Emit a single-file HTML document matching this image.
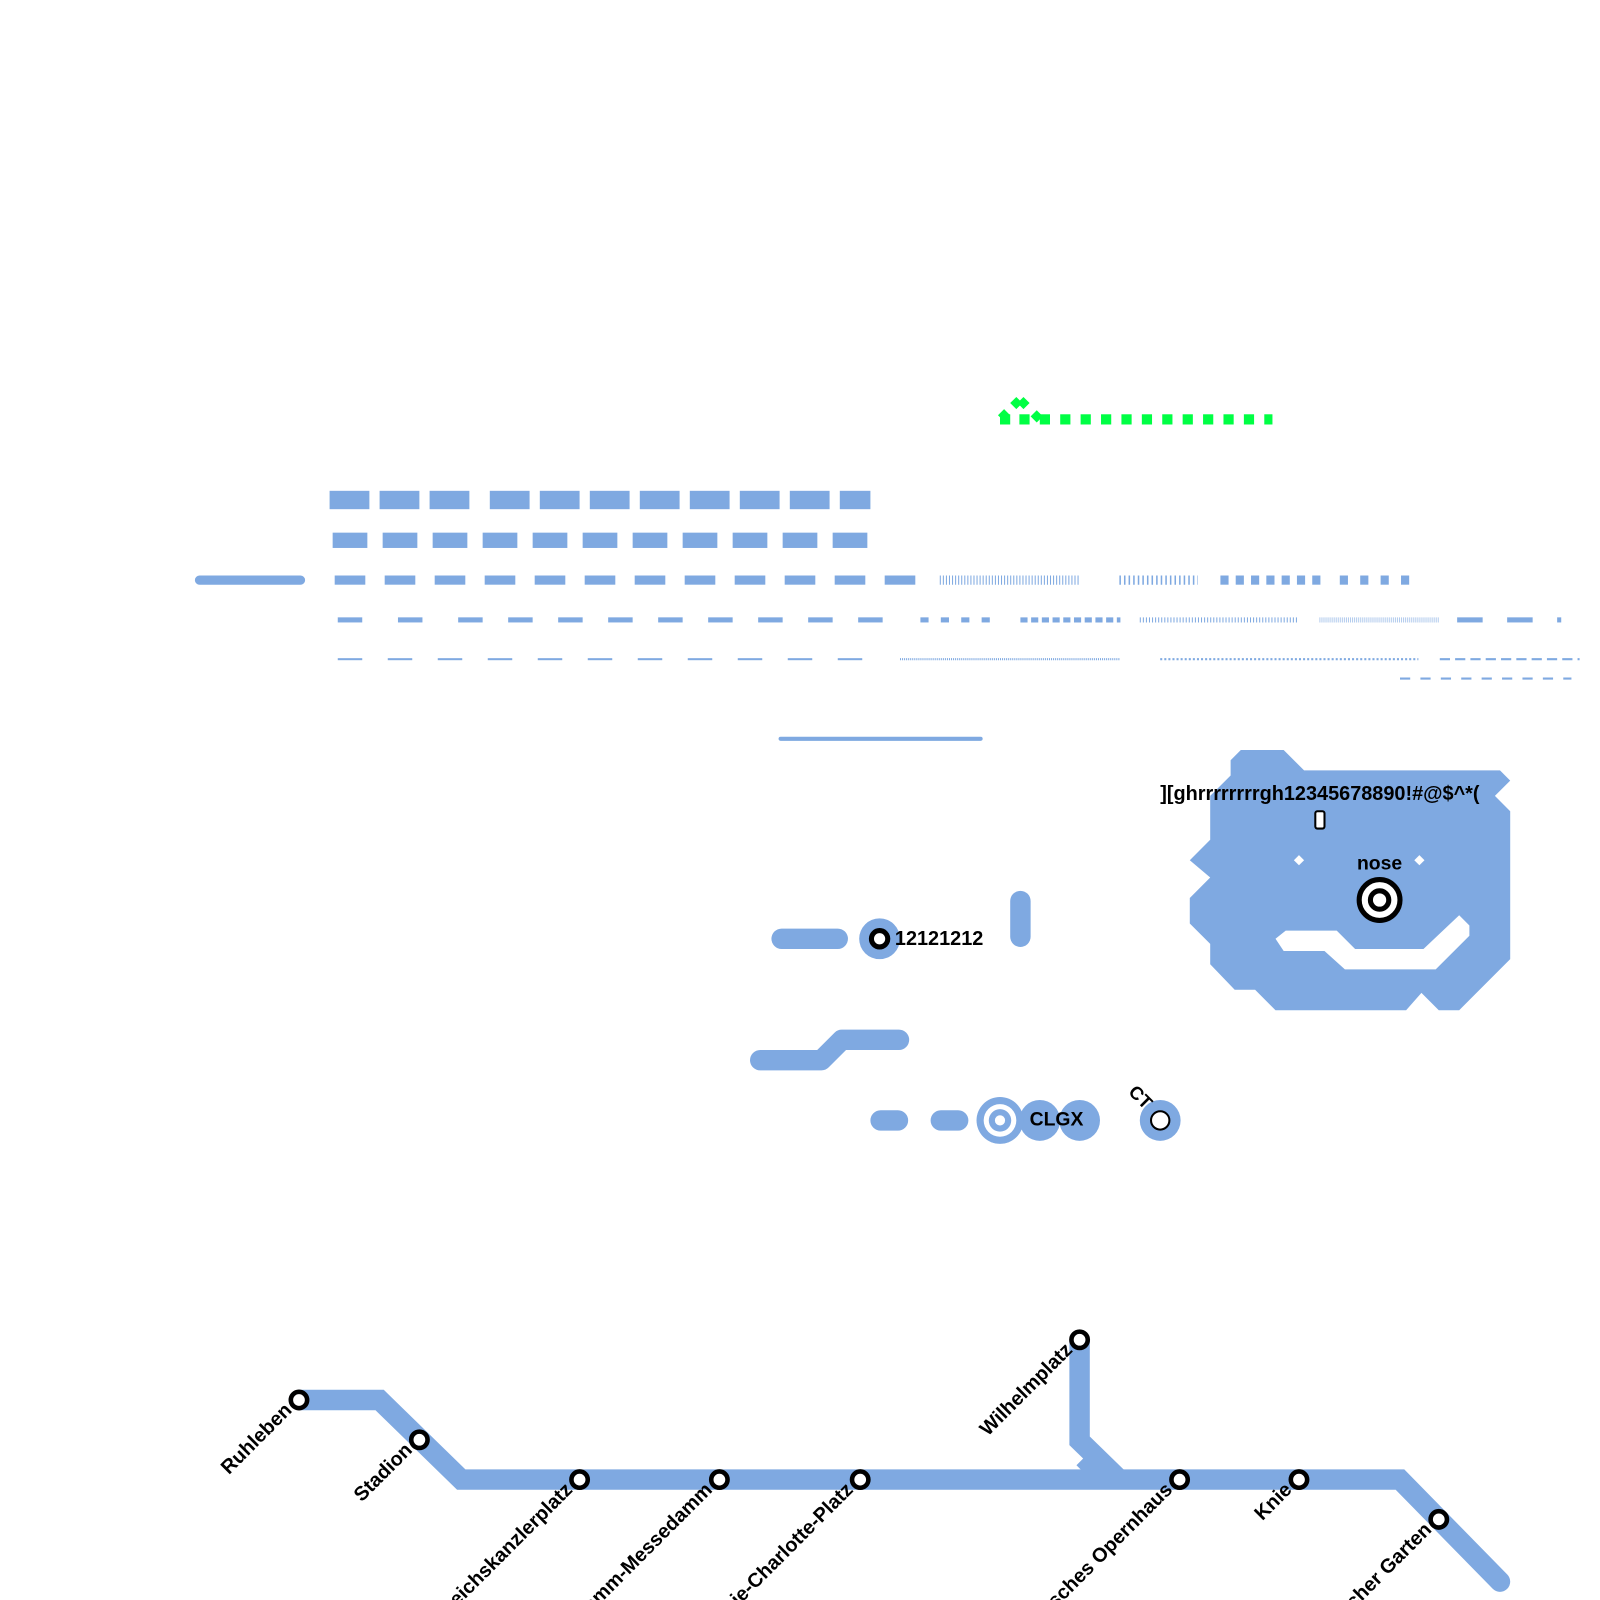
<!DOCTYPE html>
<html><head><meta charset="utf-8"><style>
html,body{margin:0;padding:0;background:#fff;}
svg{display:block;}
text{font-family:"Liberation Sans",sans-serif;font-weight:bold;fill:#000;}
</style></head><body>
<svg width="1600" height="1600" viewBox="0 0 1568 1568" xmlns="http://www.w3.org/2000/svg">
<g fill="#00ff44">
  <rect x="980" y="406" width="10" height="10"/>
  <rect x="999" y="406" width="10" height="10"/>
  <rect x="1019" y="406" width="10" height="10"/>
  <rect x="1039" y="406" width="10" height="10"/>
  <rect x="1059" y="406" width="10" height="10"/>
  <rect x="1079" y="406" width="10" height="10"/>
  <rect x="1099" y="406" width="10" height="10"/>
  <rect x="1119" y="406" width="10" height="10"/>
  <rect x="1139" y="406" width="10" height="10"/>
  <rect x="1159" y="406" width="10" height="10"/>
  <rect x="1179" y="406" width="10" height="10"/>
  <rect x="1199" y="406" width="10" height="10"/>
  <rect x="1219" y="406" width="10" height="10"/>
  <rect x="1239" y="406" width="8" height="10"/>
  <polygon points="984,401 990,407 984,413 978,407"/>
  <polygon points="1016,402 1022,408 1016,414 1010,408"/>
  <polygon points="996,389 1002,395 996,401 990,395"/>
  <polygon points="1003,389 1009,395 1003,401 997,395"/>
</g>
<g fill="#7fa9e1">
  <g transform="translate(0,481)">
    <rect x="323" width="39" height="18"/><rect x="372" width="39" height="18"/><rect x="421" width="39" height="18"/>
    <rect x="480" width="39" height="18"/><rect x="529" width="39" height="18"/><rect x="578" width="39" height="18"/>
    <rect x="627" width="39" height="18"/><rect x="676" width="39" height="18"/><rect x="725" width="39" height="18"/>
    <rect x="774" width="39" height="18"/><rect x="823" width="30" height="18"/>
  </g>
  <g transform="translate(0,522)">
    <rect x="326" width="34" height="15"/><rect x="375" width="34" height="15"/><rect x="424" width="34" height="15"/>
    <rect x="473" width="34" height="15"/><rect x="522" width="34" height="15"/><rect x="571" width="34" height="15"/>
    <rect x="620" width="34" height="15"/><rect x="669" width="34" height="15"/><rect x="718" width="34" height="15"/>
    <rect x="767" width="34" height="15"/><rect x="816" width="34" height="15"/>
  </g>
  <rect x="191" y="564" width="108" height="9" rx="4.5"/>
  <g transform="translate(0,564)">
    <rect x="328" width="30" height="9"/><rect x="377" width="30" height="9"/><rect x="426" width="30" height="9"/>
    <rect x="475" width="30" height="9"/><rect x="524" width="30" height="9"/><rect x="573" width="30" height="9"/>
    <rect x="622" width="30" height="9"/><rect x="671" width="30" height="9"/><rect x="720" width="30" height="9"/>
    <rect x="769" width="30" height="9"/><rect x="818" width="30" height="9"/><rect x="867" width="30" height="9"/>
    <rect x="1196" width="8" height="9"/><rect x="1211" width="8" height="9"/><rect x="1226" width="8" height="9"/>
    <rect x="1241" width="8" height="9"/><rect x="1256" width="8" height="9"/><rect x="1271" width="8" height="9"/>
    <rect x="1286" width="8" height="9"/>
    <rect x="1313" width="8" height="9"/><rect x="1333" width="8" height="9"/><rect x="1353" width="8" height="9"/><rect x="1373" width="8" height="9"/>
  </g>
  <g transform="translate(0,605)">
    <rect x="331" width="24" height="5"/><rect x="390" width="24" height="5"/><rect x="449" width="24" height="5"/>
    <rect x="498" width="24" height="5"/><rect x="547" width="24" height="5"/><rect x="596" width="24" height="5"/>
    <rect x="645" width="24" height="5"/><rect x="694" width="24" height="5"/><rect x="743" width="24" height="5"/>
    <rect x="792" width="24" height="5"/><rect x="841" width="24" height="5"/>
    <rect x="902" width="8" height="5"/><rect x="922" width="8" height="5"/><rect x="942" width="8" height="5"/><rect x="962" width="8" height="5"/>
    <rect x="1428" width="25" height="5"/><rect x="1477" width="25" height="5"/><rect x="1526" width="4" height="5"/>
  </g>
  <g transform="translate(0,645)">
    <rect x="331" width="24" height="2"/><rect x="380" width="24" height="2"/><rect x="429" width="24" height="2"/>
    <rect x="478" width="24" height="2"/><rect x="527" width="24" height="2"/><rect x="576" width="24" height="2"/>
    <rect x="625" width="24" height="2"/><rect x="674" width="24" height="2"/><rect x="723" width="24" height="2"/>
    <rect x="772" width="24" height="2"/><rect x="821" width="24" height="2"/>
  </g>
  <rect x="763" y="722" width="200" height="4" rx="2"/>
</g>
<g fill="none" stroke="#7fa9e1">
  <line x1="921" y1="568.5" x2="1058" y2="568.5" stroke-width="9" stroke-dasharray="1,2"/>
  <line x1="1097" y1="568.5" x2="1174" y2="568.5" stroke-width="9" stroke-dasharray="1.5,3"/>
  <line x1="1000" y1="607.5" x2="1098" y2="607.5" stroke-width="5" stroke-dasharray="7,3.5"/>
  <line x1="1117" y1="607.5" x2="1272" y2="607.5" stroke-width="5" stroke-dasharray="1,2"/>
  <line x1="1293" y1="607.5" x2="1410" y2="607.5" stroke-width="5" stroke-dasharray="1,1" opacity="0.6"/>
  <line x1="882" y1="646" x2="1097" y2="646" stroke-width="2" stroke-dasharray="1,1"/>
  <line x1="1137" y1="646" x2="1390" y2="646" stroke-width="2" stroke-dasharray="2,2"/>
  <line x1="1411" y1="646" x2="1548" y2="646" stroke-width="2" stroke-dasharray="10,5"/>
  <line x1="1372" y1="665" x2="1540" y2="665" stroke-width="2" stroke-dasharray="10,10"/>
</g>
<g stroke="#7fa9e1" stroke-width="20" stroke-linecap="round" stroke-linejoin="round" fill="none">
  <line x1="766" y1="920" x2="821" y2="920"/>
  <line x1="1000" y1="883" x2="1000" y2="918"/>
  <polyline points="745,1039 805,1039 825,1019 881,1019"/>
  <line x1="863" y1="1098" x2="880" y2="1098"/>
  <line x1="922" y1="1098" x2="939" y2="1098"/>
</g>
<circle cx="862" cy="920" r="20" fill="#7fa9e1"/>
<circle cx="862" cy="920" r="8" fill="#fff" stroke="#000" stroke-width="5"/>
<text x="877" y="926" font-size="19.5">12121212</text>
<circle cx="1019" cy="1098" r="20" fill="#7fa9e1"/>
<circle cx="1058" cy="1098" r="20" fill="#7fa9e1"/>
<circle cx="980" cy="1098" r="23" fill="#7fa9e1"/>
<circle cx="980" cy="1098" r="16" fill="#fff"/>
<circle cx="980" cy="1098" r="11" fill="#7fa9e1"/>
<circle cx="980" cy="1098" r="5" fill="#fff"/>
<text x="1009" y="1103" font-size="19">CLGX</text>
<circle cx="1137" cy="1098" r="20" fill="#7fa9e1"/>
<circle cx="1137" cy="1098" r="9" fill="#fff" stroke="#000" stroke-width="2"/>
<text x="0" y="0" font-size="18" transform="translate(1105,1071) rotate(45)">CT</text>
<polygon fill="#7fa9e1" points="1206,745 1216,735 1258,735 1278,755 1470,755 1480,765 1465,780 1480,795 1480,940 1440,980 1430,990 1410,990 1393,973 1378,990 1250,990 1230,970 1210,970 1186,945 1186,925 1166,905 1166,880 1186,860 1166,843 1186,823 1186,780 1206,760"/>
<polygon fill="#fff" points="1250,920 1260,912 1310,912 1328,930 1395,930 1430,897 1440,907 1440,917 1407,950 1318,950 1298,932 1258,932"/>
<polygon fill="#fff" points="1273,838 1278,843 1273,848 1268,843"/>
<polygon fill="#fff" points="1391,838 1396,843 1391,848 1386,843"/>
<text x="1137" y="784" font-size="19.5">][ghrrrrrrrrgh12345678890!#@$^*(</text>
<rect x="1289" y="795" width="9" height="17" rx="2" fill="#fff" stroke="#000" stroke-width="2"/>
<text x="1352" y="852" font-size="19" text-anchor="middle">nose</text>
<circle cx="1352" cy="882" r="20" fill="#fff" stroke="#000" stroke-width="5"/>
<circle cx="1352" cy="882" r="9" fill="#fff" stroke="#000" stroke-width="5"/>
<g stroke="#7fa9e1" stroke-width="20" fill="none" stroke-linejoin="miter">
  <polyline points="293,1372 372,1372 452,1450 1372,1450 1470,1550" stroke-linecap="round"/>
  <polyline points="1058,1313 1058,1412 1097,1450"/>
  <line x1="1062" y1="1443" x2="1072" y2="1433"/>
</g>
<g fill="#fff" stroke="#000" stroke-width="4.5">
  <circle cx="293" cy="1372" r="8"/><circle cx="411" cy="1411" r="8"/>
  <circle cx="568" cy="1450" r="8"/><circle cx="705" cy="1450" r="8"/><circle cx="843" cy="1450" r="8"/>
  <circle cx="1058" cy="1313" r="8"/><circle cx="1156" cy="1450" r="8"/><circle cx="1273" cy="1450" r="8"/>
  <circle cx="1410" cy="1489" r="8"/>
</g>
<g font-size="19.5" text-anchor="end">
  <text transform="translate(287,1383) rotate(-45)">Ruhleben</text>
  <text transform="translate(405,1422) rotate(-45)">Stadion</text>
  <text transform="translate(562,1461) rotate(-45)">Reichskanzlerplatz</text>
  <text transform="translate(699,1461) rotate(-45)">Kaiserdamm-Messedamm</text>
  <text transform="translate(837,1461) rotate(-45)">Sophie-Charlotte-Platz</text>
  <text transform="translate(1052,1324) rotate(-45)">Wilhelmplatz</text>
  <text transform="translate(1150,1461) rotate(-45)">Deutsches Opernhaus</text>
  <text transform="translate(1267,1461) rotate(-45)">Knie</text>
  <text transform="translate(1404,1500) rotate(-45)">Zoologischer Garten</text>
</g>
</svg>
</body></html>
